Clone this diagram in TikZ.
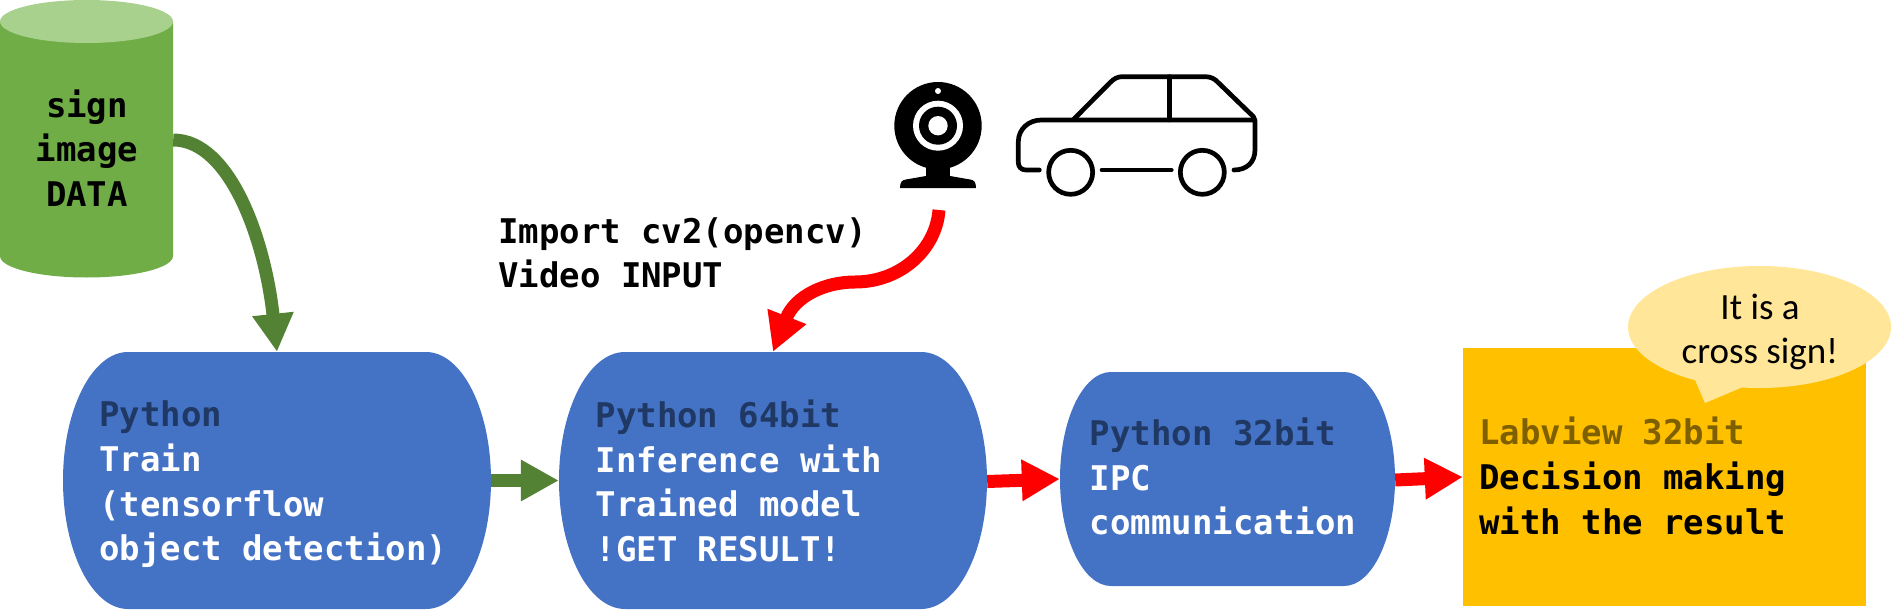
\documentclass[tikz,border=0pt]{standalone}
\usepackage{fontspec}
\usetikzlibrary{arrows.meta}
\newfontfamily\consfont{DejaVu Sans Mono}
\newfontfamily\handfont{Carlito}
\definecolor{boxblue}{HTML}{4472C4}
\definecolor{darkblue}{HTML}{203864}
\definecolor{cylgreen}{HTML}{70AD47}
\definecolor{cyltop}{HTML}{A9D18E}
\definecolor{arrowgreen}{HTML}{548235}
\definecolor{orangebox}{HTML}{FFC000}
\definecolor{brownish}{HTML}{7F6000}
\definecolor{bubbleyellow}{HTML}{FFE699}
\definecolor{arrowred}{HTML}{FF0000}
\tikzset{
  monotext/.style={font=\consfont\bfseries\fontsize{34}{44.6}\selectfont,align=left,inner sep=0pt},
  anchorbox/.style={rectangle,inner sep=0pt,minimum width=#1},
  boxlabel/.style={monotext,anchor=west,text=white},
  greenarrow/.style={draw=arrowgreen,line width=13pt,-{Triangle[length=38pt,width=39pt]}},
  redarrow/.style={draw=arrowred,line width=13pt,-{Triangle[length=38pt,width=39pt]}},
  carline/.style={draw=black,line width=4.7pt,line cap=round,line join=round}
}
% left, top, right, bottom, x radius
\newcommand\blobshape[5]{%
  \pgfmathsetmacro\blobry{(#4-#2)/2}%
  \fill[boxblue] (#1+#5,#2) -- (#3-#5,#2)
    arc[start angle=-90,end angle=0,x radius=#5,y radius=\blobry]
    arc[start angle=0,end angle=90,x radius=#5,y radius=\blobry]
    -- (#1+#5,#4)
    arc[start angle=90,end angle=180,x radius=#5,y radius=\blobry]
    arc[start angle=180,end angle=270,x radius=#5,y radius=\blobry]
    -- cycle;}
\begin{document}
\begin{tikzpicture}[x=1pt,y=-1pt]
\useasboundingbox (0,0) rectangle (1892,610);
% cylinder
\fill[cylgreen] (0,21.5) -- (173,21.5) -- (173,256)
  .. controls (173,268) and (134,277.5) .. (86.5,277.5)
  .. controls (39,277.5) and (0,268) .. (0,256) -- cycle;
\fill[cyltop] (86.5,21.5) ellipse [x radius=86.5,y radius=21.5];
\node[monotext,align=center,minimum width=173pt,minimum height=100pt] (data) at (86.5,140) {};
\node[monotext,align=center,text=black] (datatxt) at (87,148) {sign\\image\\DATA};
% blue boxes
\blobshape{63}{352}{491}{609}{65}
\blobshape{559}{352}{987}{609}{66}
\blobshape{1060}{372}{1395}{586}{51}
\node[anchorbox=428pt,minimum height=257pt] (train) at (277,480.5) {};
\node[anchorbox=428pt,minimum height=257pt] (infer) at (773,480.5) {};
\node[anchorbox=335pt,minimum height=214pt] (ipc) at (1227.5,479) {};
\node[boxlabel] (traintxt) at (99,484.4) {\textcolor{darkblue}{Python}\\Train\\(tensorflow\\object detection)};
\node[boxlabel] (infertxt) at (595.4,481) {\textcolor{darkblue}{Python 64bit}\\Inference with\\Trained model\\!GET RESULT!};
\node[boxlabel] (ipctxt) at (1089.7,476.6) {\textcolor{darkblue}{Python 32bit}\\IPC\\communication};
% orange box
\node[rectangle,fill=orangebox,inner sep=0pt,minimum width=403pt,minimum height=258pt] (labview) at (1664.5,477) {};
\node[boxlabel,text=black] (labviewtxt) at (1479,476) {\textcolor{brownish}{Labview 32bit}\\Decision making\\with the result};
% speech bubble
\fill[bubbleyellow] (1759.5,327) ellipse [x radius=131.5,y radius=61];
\fill[bubbleyellow] (1695,380) -- (1705,403) -- (1743,387) -- cycle;
\node[font=\handfont\fontsize{37}{44}\selectfont,align=center,inner sep=0pt] (bubble) at (1760,331.5) {It is a\\cross sign!};
% caption
\node[monotext,anchor=west,text=black] (caption) at (498,253) {Import cv2(opencv)\\Video INPUT};
% webcam
\fill[black] (938,125.7) circle [radius=43.7];
\fill[black] (926,160) rectangle (950,180);
\fill[black] (900,188) .. controls (900,182) and (902,180) .. (906,179.5) -- (926,176) -- (950,176) -- (970,179.5)
  .. controls (974,180) and (976,182) .. (976,188) -- cycle;
\fill[white] (938,91) circle [radius=3];
\fill[white] (938,125.7) circle [radius=25];
\fill[black] (938,125.7) circle [radius=19];
\fill[white] (938,125.7) circle [radius=9.7];
% car
\begin{scope}[shift={(1000,50)},x=0.3333pt,y=-0.3333pt]
\draw[carline] (118,360) -- (78,360) .. controls (64,360) and (55,351) .. (55,338) -- (55,275)
  .. controls (55,238) and (85,210) .. (125,210) -- (765,210);
\draw[carline] (222,207) -- (330,98) .. controls (342,86) and (352,80) .. (368,80) -- (615,80)
  .. controls (632,80) and (644,86) .. (655,98) -- (750,190) .. controls (760,198) and (765,205) .. (765,215)
  -- (765,300) .. controls (765,337) and (740,360) .. (702,360);
\draw[carline] (508,80) -- (508,210);
\draw[carline] (306,360) -- (514,360);
\draw[carline] (212,367) circle [radius=66];
\draw[carline] (607,367) circle [radius=66];
\end{scope}
\coordinate (camfoot) at (939,210);
% connectors
\draw[greenarrow] (data.east) .. controls (230,140) and (265,240) .. (train.north);
\draw[greenarrow] (train.east) -- (infer.west);
\draw[redarrow] (camfoot) .. controls (936,250) and (900,282) .. (855,282) .. controls (825,282) and (795,296) .. (infer.north);
\draw[redarrow] ([yshift=-1pt]infer.east) -- (ipc.west);
\draw[redarrow] ([yshift=-1pt]ipc.east) -- (labview.west);
\end{tikzpicture}
\end{document}
